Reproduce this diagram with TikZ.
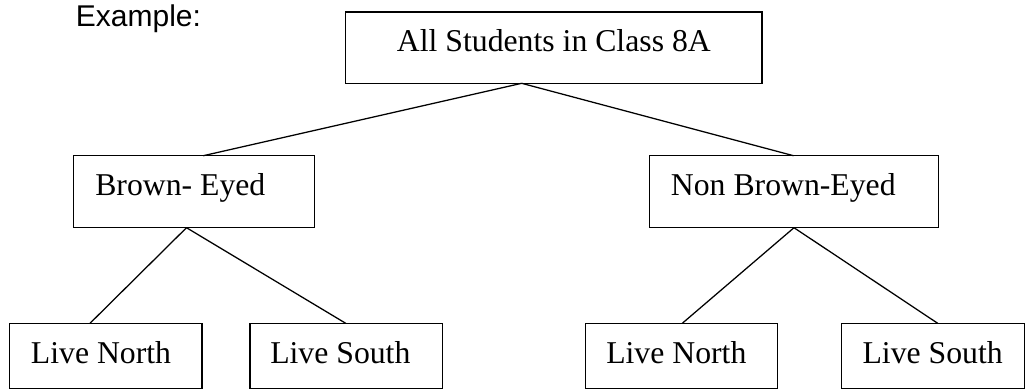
\documentclass[tikz,border=0pt]{standalone}
\usepackage{fontspec}
\setmainfont{Liberation Serif}
\newfontfamily\exfont{Liberation Sans}
\usetikzlibrary{fit}
\begin{document}
\begin{tikzpicture}[x=0.75pt,y=-0.75pt,
  box/.style={draw=black, line width=1.1pt, inner sep=0pt, rectangle},
  lbl/.style={inner sep=0pt, anchor=base west, font=\fontsize{23.8}{28}\selectfont},
  conn/.style={draw=black, line width=0.95pt}]
\useasboundingbox (0,0) rectangle (1026,390);
% boxes
\node[box, fit={(345.7,12) (762,83.3)}] (top) {};
\node[box, fit={(73.3,155.7) (314.3,227.7)}] (brown) {};
\node[box, fit={(649.5,155.7) (938.3,227.7)}] (non) {};
\node[box, fit={(9.3,323.3) (202,388.3)}] (ln1) {};
\node[box, fit={(250,323.3) (442.3,388.3)}] (ls1) {};
\node[box, fit={(585.7,323.3) (777.7,388.3)}] (ln2) {};
\node[box, fit={(841.7,323.3) (1024.5,388.3)}] (ls2) {};
% texts
\node[inner sep=0pt, anchor=base west, font=\exfont\fontsize{22.5}{27}\selectfont] (ex) at (75.7,26.8) {Example:};
\node[lbl] (toptxt) at (396.7,51.7) {All Students in Class 8A};
\node[lbl] (browntxt) at (95,195) {Brown- Eyed};
\node[lbl] (nontxt) at (670.7,195) {Non Brown-Eyed};
\node[lbl] (ln1txt) at (30.7,363.3) {Live North};
\node[lbl] (ls1txt) at (270,363.3) {Live South};
\node[lbl] (ln2txt) at (606,363.3) {Live North};
\node[lbl] (ls2txt) at (862.3,363.3) {Live South};
% attachment points
\coordinate (topB) at (521.7,83.3);
\coordinate (brownT) at (203.3,155.7);
\coordinate (nonT) at (793.5,155.7);
\coordinate (brownB) at (186.5,227.7);
\coordinate (nonB) at (794,227.7);
\coordinate (ln1T) at (90,323.3);
\coordinate (ls1T) at (345.7,323.3);
\coordinate (ln2T) at (682.3,323.3);
\coordinate (ls2T) at (937.7,323.3);
% connectors
\draw[conn] (topB) -- (brownT);
\draw[conn] (topB) -- (nonT);
\draw[conn] (brownB) -- (ln1T);
\draw[conn] (brownB) -- (ls1T);
\draw[conn] (nonB) -- (ln2T);
\draw[conn] (nonB) -- (ls2T);
\end{tikzpicture}
\end{document}
